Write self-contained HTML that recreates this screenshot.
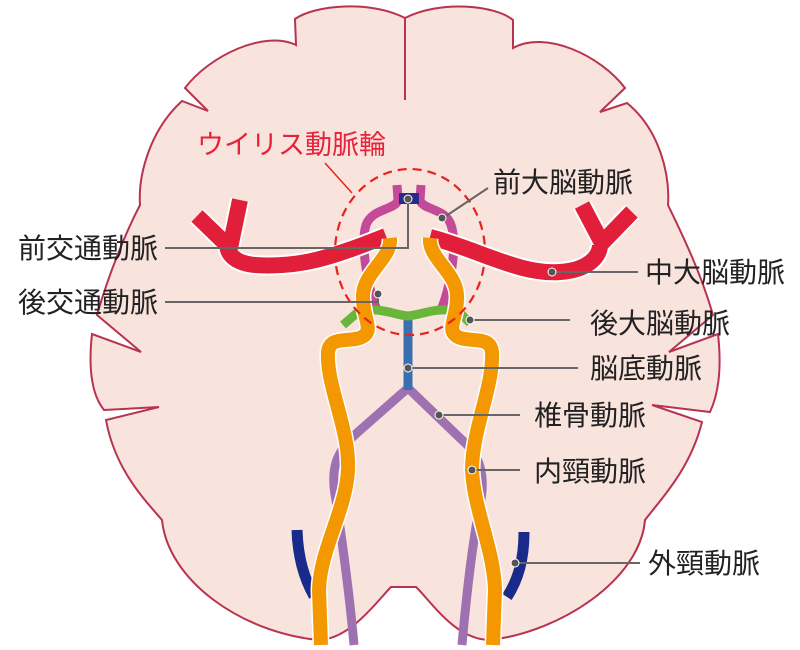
<!DOCTYPE html>
<html><head><meta charset="utf-8"><style>
html,body{margin:0;padding:0;background:#fff;width:800px;height:650px;overflow:hidden}
svg{display:block}
text{font-family:"Liberation Sans","Noto Sans CJK JP",sans-serif;font-size:28px;fill:#222}
</style></head><body>
<svg width="800" height="650" viewBox="0 0 800 650">
<path d="M405,18 C440,0 495,5 513,20 L513,48 C545,30 600,55 625,88 L600,112 L627,103 C660,130 670,175 668,205 C680,230 700,270 713,315 L669,352 L718,334 C722,370 718,395 710,412 L652,405 L702,422 C690,470 660,500 645,520 C640,580 560,632 490,640 C455,640 430,600 416,587 L391,587 C378,600 350,640 318,640 C240,632 168,580 162,520 C145,500 115,470 106,420 L159,407 L104,410 C92,395 88,370 92,334 L141,352 L97,315 C110,270 127,230 140,205 C138,175 150,130 182,101 L208,111 L185,88 C210,55 265,30 296,45 L295,19 C315,5 370,0 405,18 Z" fill="#f9e3dd" stroke="#b8334f" stroke-width="2"/>
<line x1="405" y1="18" x2="405" y2="100" stroke="#b8334f" stroke-width="2"/>

<path d="M297,530 C298,560 305,580 314,596" fill="none" stroke="#1a2a8a" stroke-width="11"/>
<path d="M524,532 C524,560 518,580 507,597" fill="none" stroke="#1a2a8a" stroke-width="11"/>
<path d="M408,388 L358,432 C335,452 330,470 336,500 C342,540 350,600 354,645 M408,388 L462,440 C480,455 486,475 480,505 C472,545 466,600 462,645" fill="none" stroke="#9e72b0" stroke-width="9"/>
<line x1="408" y1="312" x2="408" y2="390" stroke="#3a6fb0" stroke-width="9"/>
<path d="M397,185 L398,200 C396,210 372,208 366,225 C360,245 368,290 378,312" fill="none" stroke="#c24a98" stroke-width="9"/>
<path d="M421,185 L420,200 C422,210 446,208 451,225 C458,245 450,290 440,312" fill="none" stroke="#c24a98" stroke-width="9"/>
<rect x="399" y="193" width="20" height="11" fill="#2a2a8a"/>
<path d="M343,325 L357,313 C375,305 395,315 408,316 C421,315 441,305 460,313 L470,323" fill="none" stroke="#6ab63a" stroke-width="9"/>
<g fill="none" stroke="#fff" stroke-width="20">
<path d="M386,236 C330,258 300,268 255,265 C228,263 224,245 230,243 M197,216 L230,248 L240,200"/>
<path d="M430,237 C480,250 520,275 560,272 C590,270 600,255 600,245 M632,212 L602,243 L582,205"/>
</g>
<g fill="none" stroke="#e21f3a" stroke-width="16">
<path d="M386,236 C330,258 300,268 255,265 C228,263 224,245 230,243 M197,216 L230,248 L240,200"/>
<path d="M430,237 C480,250 520,275 560,272 C590,270 600,255 600,245 M632,212 L602,243 L582,205"/>
</g>
<g fill="none">
<path d="M390,238 C392,258 364,272 363,295 C362,318 375,330 362,337 C350,343 330,335 328,352 C326,385 350,430 348,470 C346,510 320,550 319,590 L321,645" stroke="#fff" stroke-width="17"/>
<path d="M430,238 C428,258 456,272 457,295 C458,318 445,330 458,337 C470,343 490,335 492,352 C494,385 472,430 472,470 C474,510 494,550 495,590 L493,645" stroke="#fff" stroke-width="17"/>
<path d="M390,238 C392,258 364,272 363,295 C362,318 375,330 362,337 C350,343 330,335 328,352 C326,385 350,430 348,470 C346,510 320,550 319,590 L321,645" stroke="#f39800" stroke-width="14"/>
<path d="M430,238 C428,258 456,272 457,295 C458,318 445,330 458,337 C470,343 490,335 492,352 C494,385 472,430 472,470 C474,510 494,550 495,590 L493,645" stroke="#f39800" stroke-width="14"/>
</g>
<ellipse cx="410" cy="252" rx="75" ry="83" fill="none" stroke="#e8221c" stroke-width="2.2" stroke-dasharray="9,6"/>
<line x1="325" y1="163" x2="352" y2="193" stroke="#e8221c" stroke-width="1.5"/>
<g stroke="#666" stroke-width="2" fill="none">
<path d="M165,248 L408,248 L408,200"/>
<path d="M165,302 L378,302 L378,294"/>
<path d="M488,188 L443,218"/>
<path d="M552,272 L638,272"/>
<path d="M470,320 L570,320"/>
<path d="M408,368 L578,368"/>
<path d="M440,415 L520,415"/>
<path d="M472,470 L520,470"/>
<path d="M515,563 L640,563"/>
</g>
<g fill="#555" stroke="#fff" stroke-width="1">
<circle cx="408" cy="199" r="4"/><circle cx="378" cy="294" r="4"/><circle cx="442" cy="218" r="4"/>
<circle cx="552" cy="272" r="4"/><circle cx="470" cy="320" r="4"/><circle cx="408" cy="368" r="4"/>
<circle cx="439" cy="415" r="4"/><circle cx="472" cy="470" r="4"/><circle cx="515" cy="563" r="4"/>
</g>
<text x="197" y="154" style="fill:#e8223a;font-size:27px">ウイリス動脈輪</text>
<text x="493" y="192">前大脳動脈</text>
<text x="18" y="258">前交通動脈</text>
<text x="18" y="312">後交通動脈</text>
<text x="645" y="282">中大脳動脈</text>
<text x="590" y="333">後大脳動脈</text>
<text x="590" y="378">脳底動脈</text>
<text x="534" y="425">椎骨動脈</text>
<text x="534" y="481">内頸動脈</text>
<text x="648" y="573">外頸動脈</text>
</svg>
</body></html>
